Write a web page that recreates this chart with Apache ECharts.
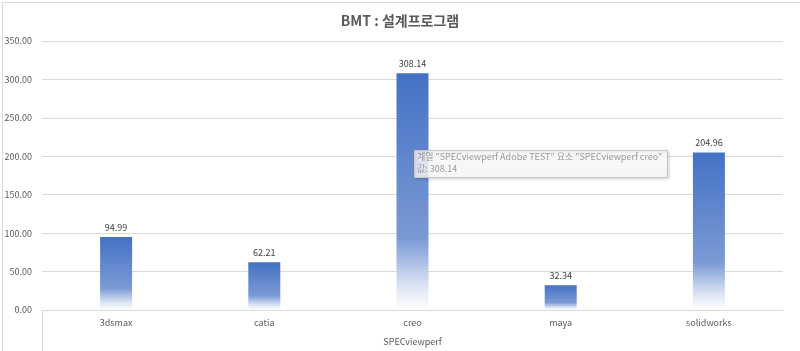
<!DOCTYPE html>
<html>
<head>
<meta charset="utf-8">
<script src="https://cdn.jsdelivr.net/npm/echarts@6/dist/echarts.min.js"></script>
<style>
  html, body { margin: 0; padding: 0; background: #fff; }
  #chart { width: 800px; height: 351px; }
</style>
</head>
<body>
<div id="chart"></div>
<script>
// 카테고리와 값
var categories = ['3dsmax', 'catia', 'creo', 'maya', 'solidworks'];
var scores = [94.99, 62.21, 308.14, 32.34, 204.96];
var groupName = 'SPECviewperf';
var titleText = 'BMT : 설계프로그램';
// 툴팁처럼 보이는 박스 문구
var hoverLines = ['계열 "SPECviewperf Adobe TEST" 요소 "SPECviewperf creo"', '값: 308.14'];

var font = '"Noto Sans CJK KR", "Noto Sans", sans-serif';
var myChart = echarts.init(document.getElementById('chart'));

var option = {
    backgroundColor: '#fff',
    animation: false,
    title: {
        text: titleText,
        left: 'center',
        top: 9,
        textStyle: { fontFamily: font, fontSize: 14, fontWeight: 'bold', color: '#595959' }
    },
    grid: { left: 42, right: 17, top: 41, bottom: 41, outerBoundsMode: 'none', containLabel: false },
    xAxis: {
        type: 'category',
        data: categories,
        name: groupName,
        nameLocation: 'middle',
        nameGap: 27,
        nameTextStyle: { fontFamily: font, fontSize: 9, color: '#595959' },
        axisLine: { lineStyle: { color: '#d9d9d9' } },
        axisTick: { show: false },
        axisLabel: { fontFamily: font, fontSize: 9, color: '#595959', margin: 8 }
    },
    yAxis: {
        type: 'value',
        min: 0,
        max: 350,
        interval: 50,
        axisLine: { show: false },
        axisTick: { show: false },
        splitLine: { lineStyle: { color: '#d9d9d9' } },
        axisLabel: {
            fontFamily: font, fontSize: 9, color: '#595959', margin: 10,
            formatter: function (v) { return v.toFixed(2); }
        }
    },
    series: [{
        type: 'bar',
        data: scores,
        barWidth: 32,
        z: 2,
        itemStyle: {
            color: new echarts.graphic.LinearGradient(0, 0, 0, 1, [
                { offset: 0, color: '#4472c4' },
                { offset: 0.7, color: '#7b9ad5' },
                { offset: 0.9, color: '#dde5f4' },
                { offset: 1, color: '#ffffff' }
            ])
        },
        label: {
            show: true,
            position: 'top',
            distance: 5,
            fontFamily: font,
            fontSize: 9,
            color: '#404040',
            formatter: function (p) { return p.value.toFixed(2); }
        }
    }],
    graphic: [
        // 바깥 테두리
        {
            type: 'rect', left: 0, top: 0, silent: true,
            shape: { x: 0.5, y: 0.5, width: 799, height: 350 },
            style: { fill: 'none', stroke: '#d9d9d9', lineWidth: 1 }
        },
        // 카테고리 그룹 박스 왼쪽 선
        {
            type: 'line', silent: true,
            shape: { x1: 42.5, y1: 310, x2: 42.5, y2: 351 },
            style: { stroke: '#d9d9d9', lineWidth: 1 }
        },
        // 툴팁 박스
        {
            type: 'rect', left: 414, top: 150, z: 100, zlevel: 1,
            shape: { x: 0, y: 0, width: 253, height: 27 },
            style: {
                fill: 'rgba(255,255,255,0.8)', stroke: '#c8c8c8', lineWidth: 1,
                shadowBlur: 3, shadowOffsetX: 1, shadowOffsetY: 1, shadowColor: 'rgba(0,0,0,0.2)'
            }
        },
        {
            type: 'text', left: 417, top: 152, z: 101, zlevel: 1,
            style: { text: hoverLines[0], fontFamily: font, fontSize: 9, fill: '#9a9a9a' }
        },
        {
            type: 'text', left: 417, top: 164, z: 101, zlevel: 1,
            style: { text: hoverLines[1], fontFamily: font, fontSize: 9, fill: '#9a9a9a' }
        }
    ]
};
myChart.setOption(option);
</script>
</body>
</html>
